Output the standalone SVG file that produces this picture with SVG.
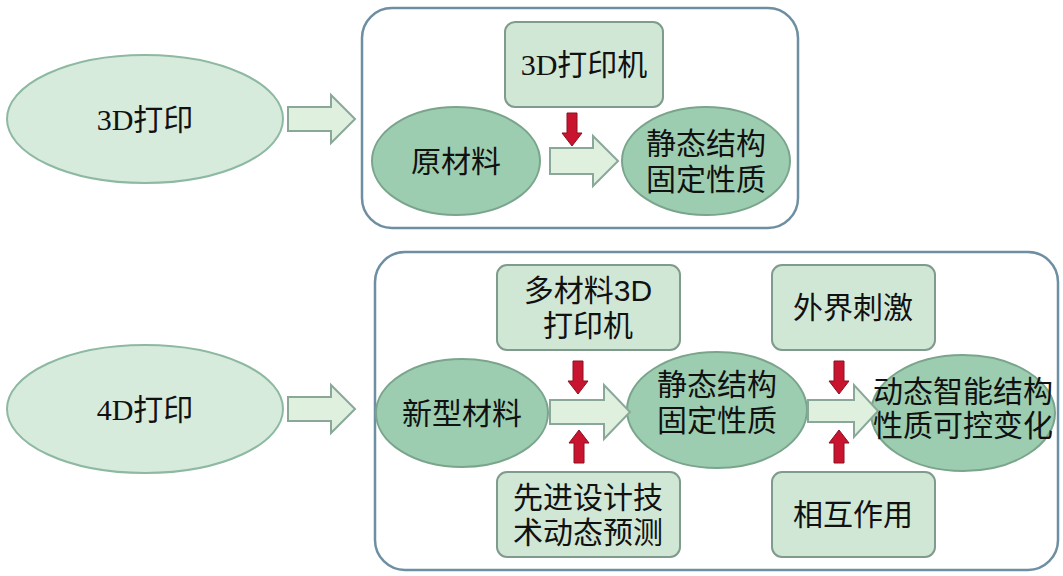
<svg xmlns="http://www.w3.org/2000/svg" width="1063" height="576" viewBox="0 0 1063 576">
<defs>
<style>
.t{font-family:"Liberation Serif","Noto Sans CJK SC",serif;font-size:30px;fill:#111;text-anchor:middle}
.s{font-family:"Liberation Sans","Noto Sans CJK SC",sans-serif;font-size:30px;fill:#111;text-anchor:middle}
.le{fill:#d7ebdc;stroke:#8db9a2;stroke-width:2}
.de{fill:#9dcdb0;stroke:#7aa58c;stroke-width:2}
.bx{fill:#d0e7d6;stroke:#7f9b8b;stroke-width:2}
.ct{fill:#fff;stroke:#6e8ea2;stroke-width:2.5}
.ar{fill:#dff0df;stroke:#8aa89a;stroke-width:2}
.rd{fill:#c8142e;stroke:#8a1020;stroke-width:1}
</style>
<path id="ra" d="M-5,0 H5 V20 H10 L0,33 L-10,20 H-5 Z"/>
</defs>
<rect class="ct" x="362" y="8" width="436" height="220" rx="30"/>
<rect class="ct" x="375" y="252" width="683" height="318" rx="30"/>
<g id="n3d"><ellipse class="le" cx="145" cy="119" rx="138" ry="64"/><text class="t" x="145" y="130">3D打印</text></g>
<g id="n4d"><ellipse class="le" cx="145" cy="409" rx="138" ry="64"/><text class="t" x="145" y="420">4D打印</text></g>
<g id="printer"><rect class="bx" x="505" y="22" width="158" height="85" rx="10"/><text class="t" x="584" y="75">3D打印机</text></g>
<g id="raw"><ellipse class="de" cx="456" cy="161" rx="84" ry="54"/><text class="s" x="456" y="172">原材料</text></g>
<g id="static1"><ellipse class="de" cx="706" cy="161" rx="84" ry="54"/><text class="s" x="706" y="154">静态结构</text><text class="s" x="706" y="190">固定性质</text></g>
<g id="multi"><rect class="bx" x="497" y="265" width="183" height="85" rx="10"/><text class="s" x="588" y="301">多材料3D</text><text class="s" x="588" y="336">打印机</text></g>
<g id="design"><rect class="bx" x="497" y="472" width="183" height="85" rx="10"/><text class="s" x="588" y="508">先进设计技</text><text class="s" x="588" y="543">术动态预测</text></g>
<g id="newmat"><ellipse class="de" cx="462" cy="413" rx="86" ry="54"/><text class="s" x="462" y="424">新型材料</text></g>
<g id="static2"><ellipse class="de" cx="717" cy="410" rx="90" ry="58"/><text class="s" x="717" y="395">静态结构</text><text class="s" x="717" y="431">固定性质</text></g>
<g id="stim"><rect class="bx" x="772" y="265" width="163" height="85" rx="10"/><text class="s" x="853" y="318">外界刺激</text></g>
<g id="inter"><rect class="bx" x="772" y="472" width="163" height="85" rx="10"/><text class="s" x="853" y="525">相互作用</text></g>
<g id="dyn"><ellipse class="de" cx="963" cy="413" rx="92" ry="58"/><text class="s" x="963" y="402" font-size="27">动态智能结构</text><text class="s" x="963" y="436" font-size="27">性质可控变化</text></g>
<g id="connectors">
<path class="ar" d="M288,107 H331 V95 L355,119 L331,143 V131 H288 Z"/>
<path class="ar" d="M288,397 H331 V385 L355,409 L331,433 V421 H288 Z"/>
<path class="ar" d="M550,148 H593 V136 L618,161 L593,186 V174 H550 Z"/>
<path class="ar" d="M550,400 H604 V385 L630,412 L604,439 V424 H550 Z"/>
<path class="ar" d="M808,400 H854 V385 L878,411 L854,437 V422 H808 Z"/>
<use href="#ra" class="rd" x="572" y="113"/>
<use href="#ra" class="rd" x="578" y="361"/>
<use href="#ra" class="rd" transform="translate(579,463) scale(1,-1)"/>
<use href="#ra" class="rd" x="839" y="361"/>
<use href="#ra" class="rd" transform="translate(839,463) scale(1,-1)"/>
</g>
</svg>
